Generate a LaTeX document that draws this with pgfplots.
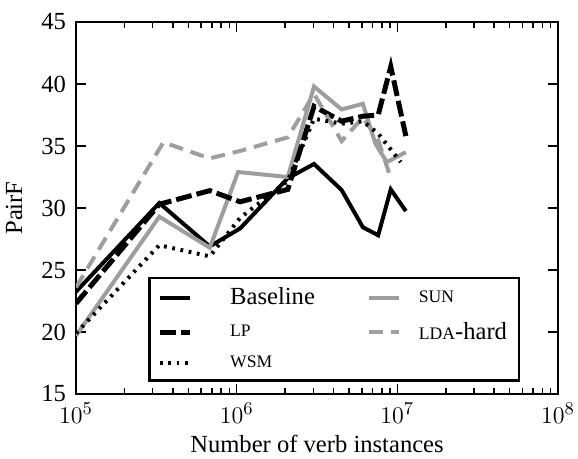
\documentclass[border=0pt]{standalone}
\usepackage{fontspec}
\setmainfont{Liberation Serif}
\usepackage{pgfplots}
\pgfplotsset{compat=1.18}
\definecolor{lgray}{RGB}{158,158,158}
\newcommand{\sck}[1]{{\fontsize{8.8}{11}\selectfont #1}}
\begin{document}
\begin{tikzpicture}
\begin{axis}[
 name=ax, anchor=south west, at={(0,0)},
 scale only axis, width=241pt, height=186pt,
 xmode=log, log basis x=10, xmin=1e5, xmax=1e8, ymin=15, ymax=45,
 ytick={15,20,...,45},
 font=\fontsize{12.3}{14.5}\selectfont,
 axis line style={line width=1.4pt},
 major tick length=5pt, minor tick length=3pt,
 every tick/.style={black, line width=0.8pt},
 xlabel={Number of verb instances}, ylabel={PairF},
 ylabel style={at={(axis description cs:-0.1286,0.5)}, anchor=center},
 xlabel style={yshift=1pt},
 yticklabel style={xshift=-1.5pt},
 xticklabel style={yshift=-1pt},
 yticklabel={\pgfmathprintnumber[assume math mode=true]{\tick}},
 legend columns=2,
 legend style={at={(0.149,0.032)}, anchor=south west, draw=black, line width=1.4pt, fill=white,
   inner xsep=4pt, inner ysep=3pt, row sep=3pt,
   /tikz/column 1/.style={column sep=17pt},
   /tikz/column 2/.style={column sep=24pt},
   /tikz/column 3/.style={column sep=7pt},
   cells={anchor=west}, font=\fontsize{12.3}{14.5}\selectfont},
 legend image code/.code={\draw[#1] (0pt,0pt) -- (15pt,0pt);},
]
\addplot[black, line width=2pt, line join=miter] coordinates {
(1e5,23.25) (3.3e5,30.4) (6.8e5,26.9) (1.05e6,28.35) (2.08e6,32.4) (3.03e6,33.55)
(4.5e6,31.45) (6.1e6,28.45) (7.6e6,27.8) (9.1e6,31.5) (1.13e7,29.75)};
\addlegendentry{Baseline}
\addplot[lgray, line width=2pt, line join=miter] coordinates {
(1e5,19.7) (3.3e5,29.3) (6.8e5,26.8) (1.02e6,32.9) (2.08e6,32.5) (3.03e6,39.8)
(4.5e6,37.95) (6.1e6,38.4) (7.3e6,35.2) (8.6e6,33.7) (1.13e7,34.5)};
\addlegendentry{\sck{SUN}}
\addplot[black, line width=2.5pt, dash pattern=on 8pt off 2.5pt] coordinates {
(1e5,22.3) (3.3e5,30.3) (6.8e5,31.4) (1.05e6,30.5) (2.08e6,31.5) (3.03e6,38.2)
(4.5e6,37.0) (6.1e6,37.4) (7.6e6,37.5) (9.1e6,41.4) (1.13e7,35.8)};
\addlegendentry{\sck{LP}}
\addplot[lgray, line width=2pt, dash pattern=on 7pt off 4pt] coordinates {
(1e5,23.6) (3.5e5,35.3) (6.8e5,34.0) (1.05e6,34.6) (2.08e6,35.7) (3.03e6,39.2)
(4.5e6,35.4) (6.1e6,37.3) (7.6e6,35.5) (9.1e6,32.4)};
\addlegendentry{\sck{LDA}-hard}
\addplot[black, line width=2pt, dash pattern=on 1.4pt off 2.8pt] coordinates {
(1e5,19.9) (3.3e5,27.0) (6.8e5,26.1) (1.05e6,29.2) (2.08e6,32.2) (3.03e6,37.2)
(4.5e6,36.8) (6.1e6,37.0) (7.6e6,36.0) (1.05e7,33.7)};
\addlegendentry{\sck{WSM}}
\end{axis}
\pgfresetboundingbox
\path (-38pt,-32.5pt) rectangle (251pt,197pt);
\end{tikzpicture}
\end{document}
